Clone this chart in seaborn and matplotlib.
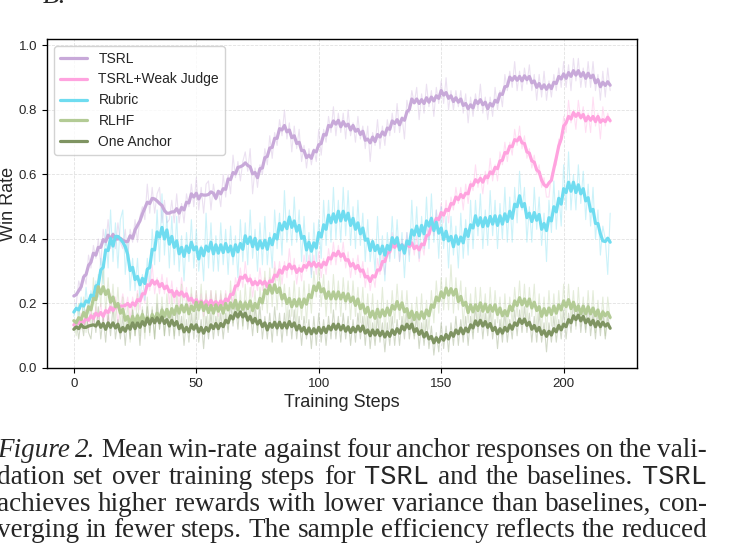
import numpy as np
import pandas as pd
import matplotlib
matplotlib.use("Agg")
import matplotlib.pyplot as plt
import seaborn as sns

# raw win-rate per training step, smoothed below
tsrl = [
    0.20, 0.20, 0.27, 0.24, 0.29, 0.26, 0.35, 0.31, 0.38, 0.34,
    0.40, 0.32, 0.43, 0.38, 0.46, 0.37, 0.42, 0.37, 0.45, 0.39,
    0.37, 0.43, 0.34, 0.43, 0.39, 0.46, 0.39, 0.47, 0.50, 0.46,
    0.57, 0.48, 0.56, 0.48, 0.54, 0.56, 0.45, 0.52, 0.45, 0.46,
    0.52, 0.45, 0.54, 0.45, 0.51, 0.45, 0.54, 0.50, 0.57, 0.50,
    0.59, 0.49, 0.56, 0.48, 0.57, 0.58, 0.49, 0.57, 0.52, 0.55,
    0.50, 0.60, 0.53, 0.60, 0.54, 0.66, 0.59, 0.64, 0.58, 0.64,
    0.67, 0.61, 0.68, 0.54, 0.62, 0.56, 0.63, 0.60, 0.68, 0.63,
    0.72, 0.65, 0.73, 0.69, 0.77, 0.72, 0.80, 0.71, 0.76, 0.67,
    0.75, 0.68, 0.74, 0.64, 0.69, 0.62, 0.68, 0.63, 0.68, 0.64,
    0.74, 0.66, 0.74, 0.70, 0.78, 0.73, 0.81, 0.72, 0.79, 0.73,
    0.79, 0.71, 0.80, 0.72, 0.76, 0.70, 0.78, 0.71, 0.75, 0.68,
    0.75, 0.64, 0.73, 0.69, 0.77, 0.68, 0.75, 0.69, 0.77, 0.72,
    0.79, 0.73, 0.82, 0.73, 0.78, 0.71, 0.83, 0.79, 0.86, 0.82,
    0.87, 0.77, 0.85, 0.79, 0.88, 0.81, 0.86, 0.78, 0.87, 0.82,
    0.89, 0.82, 0.90, 0.80, 0.86, 0.80, 0.86, 0.81, 0.86, 0.79,
    0.85, 0.76, 0.84, 0.78, 0.85, 0.80, 0.88, 0.79, 0.84, 0.77,
    0.84, 0.78, 0.87, 0.80, 0.86, 0.81, 0.91, 0.86, 0.92, 0.87,
    0.95, 0.86, 0.92, 0.86, 0.93, 0.88, 0.94, 0.86, 0.91, 0.83,
    0.91, 0.84, 0.92, 0.83, 0.89, 0.84, 0.91, 0.86, 0.93, 0.87,
    0.95, 0.87, 0.94, 0.86, 0.96, 0.89, 0.96, 0.87, 0.93, 0.87,
    0.95, 0.87, 0.95, 0.86, 0.91, 0.83, 0.92, 0.84, 0.93, 0.86,
]
weak_judge = [
    0.13, 0.15, 0.12, 0.17, 0.12, 0.18, 0.12, 0.18, 0.14, 0.19,
    0.14, 0.20, 0.14, 0.19, 0.13, 0.23, 0.17, 0.22, 0.14, 0.19,
    0.23, 0.18, 0.22, 0.15, 0.22, 0.18, 0.24, 0.18, 0.24, 0.20,
    0.29, 0.24, 0.32, 0.23, 0.28, 0.23, 0.29, 0.23, 0.28, 0.20,
    0.27, 0.20, 0.25, 0.19, 0.28, 0.21, 0.25, 0.18, 0.23, 0.18,
    0.24, 0.18, 0.23, 0.16, 0.23, 0.18, 0.24, 0.17, 0.23, 0.16,
    0.23, 0.18, 0.24, 0.18, 0.24, 0.20, 0.28, 0.24, 0.31, 0.25,
    0.33, 0.26, 0.29, 0.22, 0.28, 0.24, 0.31, 0.24, 0.28, 0.23,
    0.28, 0.23, 0.33, 0.27, 0.33, 0.26, 0.33, 0.28, 0.37, 0.29,
    0.34, 0.26, 0.32, 0.27, 0.35, 0.30, 0.35, 0.29, 0.35, 0.29,
    0.36, 0.28, 0.34, 0.29, 0.37, 0.32, 0.39, 0.32, 0.38, 0.33,
    0.39, 0.31, 0.36, 0.28, 0.34, 0.29, 0.35, 0.28, 0.33, 0.25,
    0.31, 0.24, 0.29, 0.25, 0.34, 0.29, 0.35, 0.29, 0.38, 0.34,
    0.42, 0.37, 0.41, 0.33, 0.40, 0.35, 0.42, 0.35, 0.41, 0.35,
    0.41, 0.33, 0.39, 0.35, 0.44, 0.40, 0.47, 0.41, 0.49, 0.44,
    0.51, 0.45, 0.52, 0.45, 0.53, 0.49, 0.56, 0.51, 0.56, 0.49,
    0.57, 0.51, 0.58, 0.55, 0.63, 0.56, 0.60, 0.54, 0.61, 0.57,
    0.65, 0.58, 0.63, 0.58, 0.67, 0.63, 0.70, 0.64, 0.70, 0.66,
    0.74, 0.69, 0.75, 0.68, 0.72, 0.65, 0.68, 0.62, 0.66, 0.60,
    0.63, 0.56, 0.59, 0.53, 0.53, 0.60, 0.62, 0.63, 0.71, 0.70,
    0.78, 0.73, 0.83, 0.76, 0.80, 0.74, 0.83, 0.77, 0.81, 0.73,
    0.79, 0.73, 0.84, 0.75, 0.79, 0.71, 0.81, 0.75, 0.79, 0.76,
]
rubric = [
    0.16, 0.20, 0.16, 0.22, 0.16, 0.25, 0.17, 0.24, 0.20, 0.27,
    0.22, 0.34, 0.26, 0.43, 0.31, 0.49, 0.33, 0.45, 0.31, 0.46,
    0.49, 0.29, 0.40, 0.24, 0.34, 0.24, 0.34, 0.21, 0.29, 0.21,
    0.34, 0.26, 0.43, 0.32, 0.49, 0.33, 0.54, 0.35, 0.47, 0.31,
    0.47, 0.32, 0.47, 0.30, 0.41, 0.27, 0.42, 0.33, 0.46, 0.31,
    0.43, 0.30, 0.38, 0.27, 0.48, 0.31, 0.45, 0.30, 0.41, 0.30,
    0.45, 0.32, 0.43, 0.29, 0.44, 0.32, 0.41, 0.28, 0.46, 0.33,
    0.45, 0.32, 0.49, 0.34, 0.43, 0.30, 0.45, 0.32, 0.47, 0.32,
    0.42, 0.31, 0.49, 0.37, 0.48, 0.35, 0.55, 0.39, 0.49, 0.38,
    0.53, 0.39, 0.49, 0.33, 0.47, 0.33, 0.42, 0.28, 0.45, 0.33,
    0.46, 0.34, 0.52, 0.38, 0.52, 0.39, 0.56, 0.40, 0.52, 0.39,
    0.56, 0.41, 0.55, 0.38, 0.50, 0.37, 0.52, 0.38, 0.48, 0.33,
    0.46, 0.33, 0.40, 0.30, 0.47, 0.32, 0.41, 0.27, 0.42, 0.33,
    0.47, 0.34, 0.46, 0.33, 0.42, 0.28, 0.42, 0.33, 0.52, 0.37,
    0.50, 0.34, 0.47, 0.37, 0.53, 0.37, 0.54, 0.39, 0.49, 0.34,
    0.50, 0.37, 0.47, 0.31, 0.47, 0.35, 0.44, 0.31, 0.48, 0.34,
    0.46, 0.35, 0.52, 0.37, 0.52, 0.41, 0.54, 0.37, 0.49, 0.38,
    0.55, 0.41, 0.52, 0.37, 0.51, 0.40, 0.56, 0.39, 0.53, 0.39,
    0.56, 0.45, 0.61, 0.49, 0.56, 0.39, 0.50, 0.39, 0.56, 0.43,
    0.53, 0.38, 0.48, 0.33, 0.52, 0.42, 0.58, 0.43, 0.55, 0.44,
    0.63, 0.49, 0.67, 0.49, 0.60, 0.49, 0.63, 0.51, 0.61, 0.46,
    0.57, 0.44, 0.56, 0.40, 0.49, 0.35, 0.44, 0.40, 0.29, 0.48,
]
rlhf = [
    0.14, 0.10, 0.20, 0.12, 0.22, 0.11, 0.21, 0.13, 0.28, 0.17,
    0.29, 0.19, 0.33, 0.17, 0.28, 0.17, 0.26, 0.14, 0.25, 0.13,
    0.22, 0.11, 0.20, 0.08, 0.19, 0.10, 0.23, 0.10, 0.19, 0.09,
    0.22, 0.10, 0.19, 0.09, 0.23, 0.12, 0.22, 0.10, 0.23, 0.13,
    0.23, 0.10, 0.23, 0.14, 0.26, 0.12, 0.22, 0.13, 0.25, 0.12,
    0.24, 0.15, 0.26, 0.13, 0.24, 0.11, 0.24, 0.14, 0.24, 0.12,
    0.24, 0.14, 0.23, 0.12, 0.27, 0.14, 0.25, 0.15, 0.24, 0.12,
    0.26, 0.14, 0.25, 0.15, 0.24, 0.11, 0.25, 0.18, 0.30, 0.17,
    0.31, 0.19, 0.31, 0.18, 0.30, 0.19, 0.26, 0.14, 0.25, 0.16,
    0.27, 0.13, 0.25, 0.15, 0.27, 0.14, 0.26, 0.17, 0.30, 0.22,
    0.32, 0.19, 0.29, 0.16, 0.27, 0.17, 0.29, 0.18, 0.27, 0.16,
    0.28, 0.18, 0.27, 0.15, 0.27, 0.16, 0.25, 0.14, 0.25, 0.12,
    0.23, 0.11, 0.23, 0.10, 0.21, 0.12, 0.25, 0.11, 0.21, 0.12,
    0.24, 0.14, 0.26, 0.15, 0.24, 0.12, 0.24, 0.12, 0.20, 0.10,
    0.22, 0.11, 0.23, 0.10, 0.21, 0.12, 0.24, 0.14, 0.27, 0.17,
    0.28, 0.18, 0.28, 0.18, 0.32, 0.17, 0.28, 0.18, 0.27, 0.13,
    0.25, 0.14, 0.23, 0.11, 0.25, 0.14, 0.25, 0.14, 0.23, 0.12,
    0.25, 0.13, 0.24, 0.14, 0.22, 0.10, 0.23, 0.12, 0.22, 0.14,
    0.25, 0.16, 0.27, 0.15, 0.26, 0.14, 0.25, 0.16, 0.26, 0.12,
    0.23, 0.12, 0.22, 0.11, 0.24, 0.13, 0.23, 0.12, 0.24, 0.13,
    0.26, 0.15, 0.26, 0.15, 0.24, 0.12, 0.25, 0.13, 0.22, 0.12,
    0.24, 0.13, 0.24, 0.11, 0.21, 0.12, 0.22, 0.10, 0.22, 0.15,
]
one_anchor = [
    0.12, 0.15, 0.09, 0.15, 0.10, 0.18, 0.11, 0.09, 0.17, 0.11,
    0.19, 0.09, 0.16, 0.08, 0.17, 0.10, 0.19, 0.09, 0.15, 0.09,
    0.16, 0.07, 0.16, 0.09, 0.18, 0.10, 0.17, 0.07, 0.18, 0.11,
    0.19, 0.11, 0.18, 0.09, 0.20, 0.12, 0.19, 0.10, 0.18, 0.10,
    0.18, 0.09, 0.19, 0.10, 0.16, 0.07, 0.15, 0.08, 0.17, 0.09,
    0.18, 0.08, 0.15, 0.06, 0.16, 0.09, 0.17, 0.09, 0.16, 0.10,
    0.17, 0.09, 0.17, 0.11, 0.20, 0.13, 0.20, 0.12, 0.21, 0.13,
    0.21, 0.12, 0.18, 0.10, 0.19, 0.11, 0.19, 0.09, 0.16, 0.09,
    0.17, 0.08, 0.19, 0.10, 0.17, 0.08, 0.17, 0.10, 0.18, 0.09,
    0.18, 0.09, 0.16, 0.07, 0.16, 0.09, 0.15, 0.06, 0.16, 0.07,
    0.17, 0.08, 0.15, 0.07, 0.16, 0.09, 0.18, 0.09, 0.16, 0.08,
    0.17, 0.09, 0.16, 0.07, 0.15, 0.08, 0.17, 0.09, 0.16, 0.07,
    0.16, 0.06, 0.14, 0.07, 0.16, 0.08, 0.14, 0.05, 0.14, 0.07,
    0.16, 0.07, 0.15, 0.07, 0.16, 0.09, 0.18, 0.09, 0.16, 0.09,
    0.16, 0.06, 0.14, 0.07, 0.15, 0.06, 0.13, 0.04, 0.11, 0.05,
    0.14, 0.06, 0.13, 0.05, 0.14, 0.07, 0.16, 0.07, 0.15, 0.08,
    0.16, 0.07, 0.16, 0.09, 0.19, 0.11, 0.18, 0.09, 0.17, 0.10,
    0.18, 0.09, 0.15, 0.06, 0.15, 0.08, 0.17, 0.08, 0.15, 0.09,
    0.18, 0.10, 0.18, 0.11, 0.19, 0.11, 0.17, 0.08, 0.16, 0.08,
    0.17, 0.08, 0.14, 0.05, 0.14, 0.08, 0.16, 0.08, 0.15, 0.09,
    0.18, 0.09, 0.17, 0.11, 0.20, 0.13, 0.20, 0.11, 0.18, 0.11,
    0.20, 0.10, 0.17, 0.09, 0.18, 0.10, 0.18, 0.09, 0.16, 0.12,
]

methods = ["TSRL", "TSRL+Weak Judge", "Rubric", "RLHF", "One Anchor"]
colors = ["#c8a9d9", "#ffa3df", "#6fdcf0", "#b3cb95", "#7f9462"]
series = [tsrl, weak_judge, rubric, rlhf, one_anchor]
x_ticks = [0, 50, 100, 150, 200]
y_ticks = [0.0, 0.2, 0.4, 0.6, 0.8, 1.0]

sns.set_style("ticks")
plt.rcParams["font.family"] = ["Liberation Sans", "DejaVu Sans"]

fig = plt.figure(figsize=(7.5, 5.5), dpi=100)
ax = fig.add_axes([47 / 750, 1 - 368 / 550, 590 / 750, 329 / 550])

steps = np.arange(len(tsrl))
for name, vals, c in zip(methods, series, colors):
    sns.lineplot(x=steps, y=vals, color=c, alpha=0.35, linewidth=0.8, ax=ax)

for name, vals, c in zip(methods, series, colors):
    smooth = pd.Series(vals).rolling(5, center=True, min_periods=1).mean()
    sns.lineplot(x=steps, y=smooth, color=c, linewidth=2.3, label=name, ax=ax)

ax.set_ylim(0, 1.02)
ax.set_xticks(x_ticks)
ax.set_yticks(y_ticks)
ax.set_xlabel("Training Steps", fontsize=13, labelpad=3)
ax.set_ylabel("Win Rate", fontsize=13, labelpad=1.5)
ax.tick_params(labelsize=9.5, length=3.5, width=0.8, color="black")
ax.grid(True, linestyle="--", linewidth=0.6, color="#e2e2e2")
ax.set_axisbelow(True)
for s in ax.spines.values():
    s.set_visible(True)
    s.set_color("black")
    s.set_linewidth(1.0)
ax.legend(loc="upper left", fontsize=10, frameon=True, edgecolor="#c8c8c8")

# caption below the chart, justified like the paper column
cap_size = 19.5
serif = dict(family="Liberation Serif", fontsize=cap_size)
styles = {
    "rm": serif,
    "it": dict(serif, style="italic"),
    "tt": dict(family="Liberation Mono", fontsize=cap_size),
}
caption = [
    (457, [("Figure", "it"), ("2.", "it")] + [(w, "rm") for w in
          "Mean win-rate against four anchor responses on the vali-".split()]),
    (484, [(w, "rm") for w in "dation set over training steps for".split()]
          + [("TSRL", "tt")] + [(w, "rm") for w in "and the baselines.".split()]
          + [("TSRL", "tt")]),
    (511, [(w, "rm") for w in
           "achieves higher rewards with lower variance than baselines, con-".split()]),
    (537, [(w, "rm") for w in
           "verging in fewer steps. The sample efficiency reflects the reduced".split()]),
]

fig.text(43 / 750, 1 - 3 / 550, "B.", va="baseline", **styles["it"])

renderer = fig.canvas.get_renderer()
x0, x1 = -3, 707
for y, words in caption:
    texts = [fig.text(0, 1 - y / 550, w, va="baseline", **styles[st]) for w, st in words]
    widths = [t.get_window_extent(renderer).width for t in texts]
    gap = (x1 - x0 - sum(widths)) / (len(texts) - 1)
    x = x0
    for t, w in zip(texts, widths):
        t.set_x(x / 750)
        x += w + gap

fig.savefig("out.png", dpi=100)
